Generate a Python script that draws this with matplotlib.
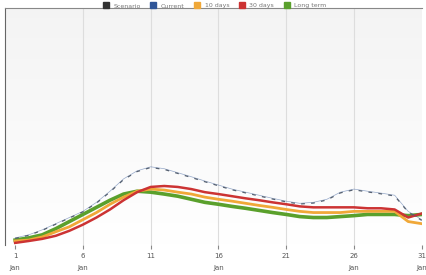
import matplotlib
matplotlib.use("Agg")
import matplotlib.pyplot as plt
import numpy as np

days = list(range(31))
series_names = ["Scenario", "Current", "10 days", "30 days", "Long term"]
series_colors = ["#333333", "#2f5597", "#f0a838", "#cc3333", "#5aa02c"]

blue_vals = [3.0, 4.3, 6.4, 9.0, 11.6, 14.2, 18.0, 22.7, 27.9, 31.3, 33.0, 32.2, 30.5, 28.8, 27.0,
             25.3, 23.6, 22.3, 21.0, 19.7, 18.5, 17.6, 18.0, 19.3, 22.3, 23.6, 22.7, 21.9, 21.0, 14.2, 10.7]
black_vals = [2.8, 4.1, 6.2, 8.8, 11.4, 14.0, 17.7, 22.4, 27.6, 31.0, 32.7, 31.9, 30.2, 28.5, 26.7,
              25.0, 23.3, 22.0, 20.7, 19.4, 18.2, 17.3, 17.7, 19.0, 22.0, 23.3, 22.4, 21.6, 20.7, 13.9, 10.4]
orange_vals = [1.7, 2.1, 3.4, 5.6, 7.7, 10.7, 13.7, 17.2, 20.2, 22.7, 23.6, 23.2, 22.3, 21.5, 20.2,
               19.3, 18.5, 17.6, 16.7, 15.9, 15.0, 14.2, 13.7, 13.7, 13.7, 14.2, 14.2, 14.2, 14.2, 9.9, 9.0]
red_vals = [0.9, 1.7, 2.6, 3.9, 6.0, 8.6, 11.6, 15.0, 18.9, 22.3, 24.5, 24.9, 24.5, 23.6, 22.3,
            21.5, 20.6, 19.7, 18.9, 18.0, 17.2, 16.3, 15.9, 15.9, 15.9, 15.9, 15.5, 15.5, 15.0, 11.6, 13.3]
green_vals = [2.1, 3.0, 4.3, 6.9, 9.9, 12.9, 15.9, 18.9, 21.5, 22.7, 22.3, 21.5, 20.6, 19.3, 18.0,
              17.2, 16.3, 15.5, 14.6, 13.7, 12.9, 12.0, 11.6, 11.6, 12.0, 12.4, 12.9, 12.9, 12.9, 12.4, 12.9]

tick_positions = [0, 5, 10, 15, 20, 25, 30]
tick_labels = ["1\nJan", "6\nJan", "11", "16\nJan", "21", "26\nJan", "31\nJan"]

fig = plt.figure(figsize=(4.26, 2.75), dpi=100)
fig.patch.set_facecolor("white")
ax = fig.add_axes([0.012, 0.109, 0.978, 0.862])

# gradient background
grad = np.linspace(0.955, 1.0, 100).reshape(-1, 1)
ax.imshow(np.dstack([grad, grad, grad]), extent=[-0.74, 30, 0, 100], aspect="auto",
          origin="upper", zorder=0)

ax.set_xlim(-0.74, 30)
ax.set_ylim(0, 100)
for t in tick_positions[1:-1]:
    ax.axvline(t, color="#dddddd", lw=0.8, zorder=1)

ax.plot(days, green_vals, color=series_colors[4], lw=2.6, zorder=3)
ax.plot(days, orange_vals, color=series_colors[2], lw=2.0, zorder=4)
ax.plot(days, red_vals, color=series_colors[3], lw=1.8, zorder=5)
ax.plot(days, blue_vals, color=series_colors[1], lw=0.5, alpha=0.5, zorder=6)
ax.plot(days, black_vals, color="#556070", lw=0.9, ls=(0, (3, 5)), zorder=7)

ax.set_xticks(tick_positions)
ax.set_xticklabels(tick_labels, fontsize=5, color="#555555", linespacing=2.2)
ax.tick_params(axis="x", length=3, color="#888888", pad=3)
ax.set_yticks([])
for s in ["right", "bottom"]:
    ax.spines[s].set_visible(False)
ax.spines["left"].set_color("#666666")
ax.spines["top"].set_color("#888888")

handles = [plt.Line2D([], [], marker="s", ls="none", color=c, markersize=5) for c in series_colors]
fig.legend(handles, series_names, loc="upper center", bbox_to_anchor=(0.5, 1.0), ncol=5,
           frameon=False, fontsize=4.5, handletextpad=0.2, columnspacing=1.0,
           labelcolor="#777777", borderaxespad=0.1)

fig.savefig("out.png", dpi=100, facecolor="white")
